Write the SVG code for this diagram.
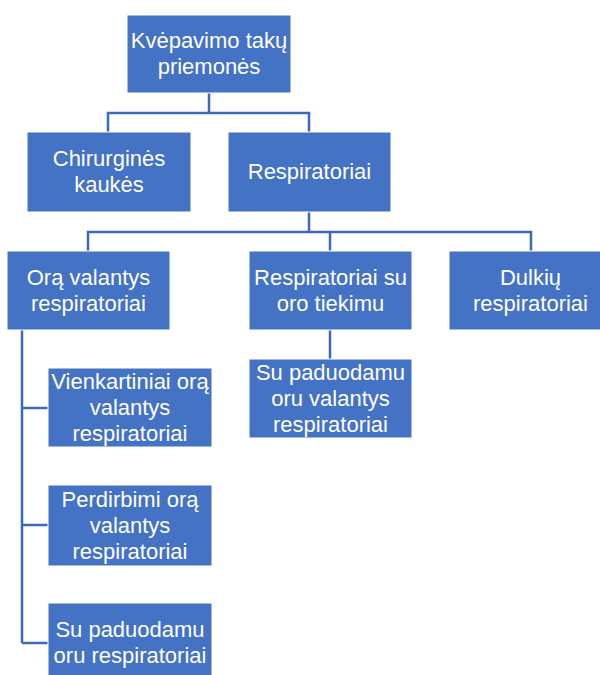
<svg xmlns="http://www.w3.org/2000/svg" width="600" height="675" viewBox="0 0 600 675">
<style>
.box{fill:#4472C4;stroke:#ffffff;stroke-width:1}
.t{fill:#ffffff;font-family:"Liberation Sans",Arial,sans-serif;font-size:22px;text-anchor:middle}
.c{fill:none;stroke:#3D69B8;stroke-width:2.5}
</style>
<rect width="600" height="675" fill="#ffffff"/>
<g id="connectors">
<path class="c" d="M209,93V113M108,132V113H309V132"/>
<path class="c" d="M309,212V232M88,251V232H531V251M330,232V251"/>
<path class="c" d="M330,330V359"/>
<path class="c" d="M22,330V643M22,408H48M22,525H48M22,643H48"/>
</g>
<g id="n-root"><rect class="box" x="127" y="15" width="164" height="78"/><text class="t" x="209" y="48">Kvėpavimo takų</text><text class="t" x="209" y="74">priemonės</text></g>
<g id="n-chir"><rect class="box" x="27" y="132" width="164" height="80"/><text class="t" x="109" y="166">Chirurginės</text><text class="t" x="109" y="192">kaukės</text></g>
<g id="n-resp"><rect class="box" x="228" y="132" width="163" height="80"/><text class="t" x="309.5" y="179">Respiratoriai</text></g>
<g id="n-ora"><rect class="box" x="7" y="251" width="163" height="79"/><text class="t" x="88.5" y="285">Orą valantys</text><text class="t" x="88.5" y="311">respiratoriai</text></g>
<g id="n-tiek"><rect class="box" x="249" y="251" width="163" height="79"/><text class="t" x="330.5" y="285">Respiratoriai su</text><text class="t" x="330.5" y="311">oro tiekimu</text></g>
<g id="n-dulk"><rect class="box" x="449" y="251" width="163" height="79"/><text class="t" x="530.5" y="285">Dulkių</text><text class="t" x="530.5" y="311">respiratoriai</text></g>
<g id="n-vienk"><rect class="box" x="48" y="368" width="164" height="79"/><text class="t" x="130" y="389">Vienkartiniai orą</text><text class="t" x="130" y="415">valantys</text><text class="t" x="130" y="441">respiratoriai</text></g>
<g id="n-supval"><rect class="box" x="249" y="359" width="163" height="79"/><text class="t" x="330.5" y="380">Su paduodamu</text><text class="t" x="330.5" y="406">oru valantys</text><text class="t" x="330.5" y="432">respiratoriai</text></g>
<g id="n-perd"><rect class="box" x="48" y="485" width="164" height="81"/><text class="t" x="130" y="507">Perdirbimi orą</text><text class="t" x="130" y="533">valantys</text><text class="t" x="130" y="559">respiratoriai</text></g>
<g id="n-supresp"><rect class="box" x="48" y="603" width="164" height="80"/><text class="t" x="130" y="637">Su paduodamu</text><text class="t" x="130" y="663">oru respiratoriai</text></g>
</svg>
